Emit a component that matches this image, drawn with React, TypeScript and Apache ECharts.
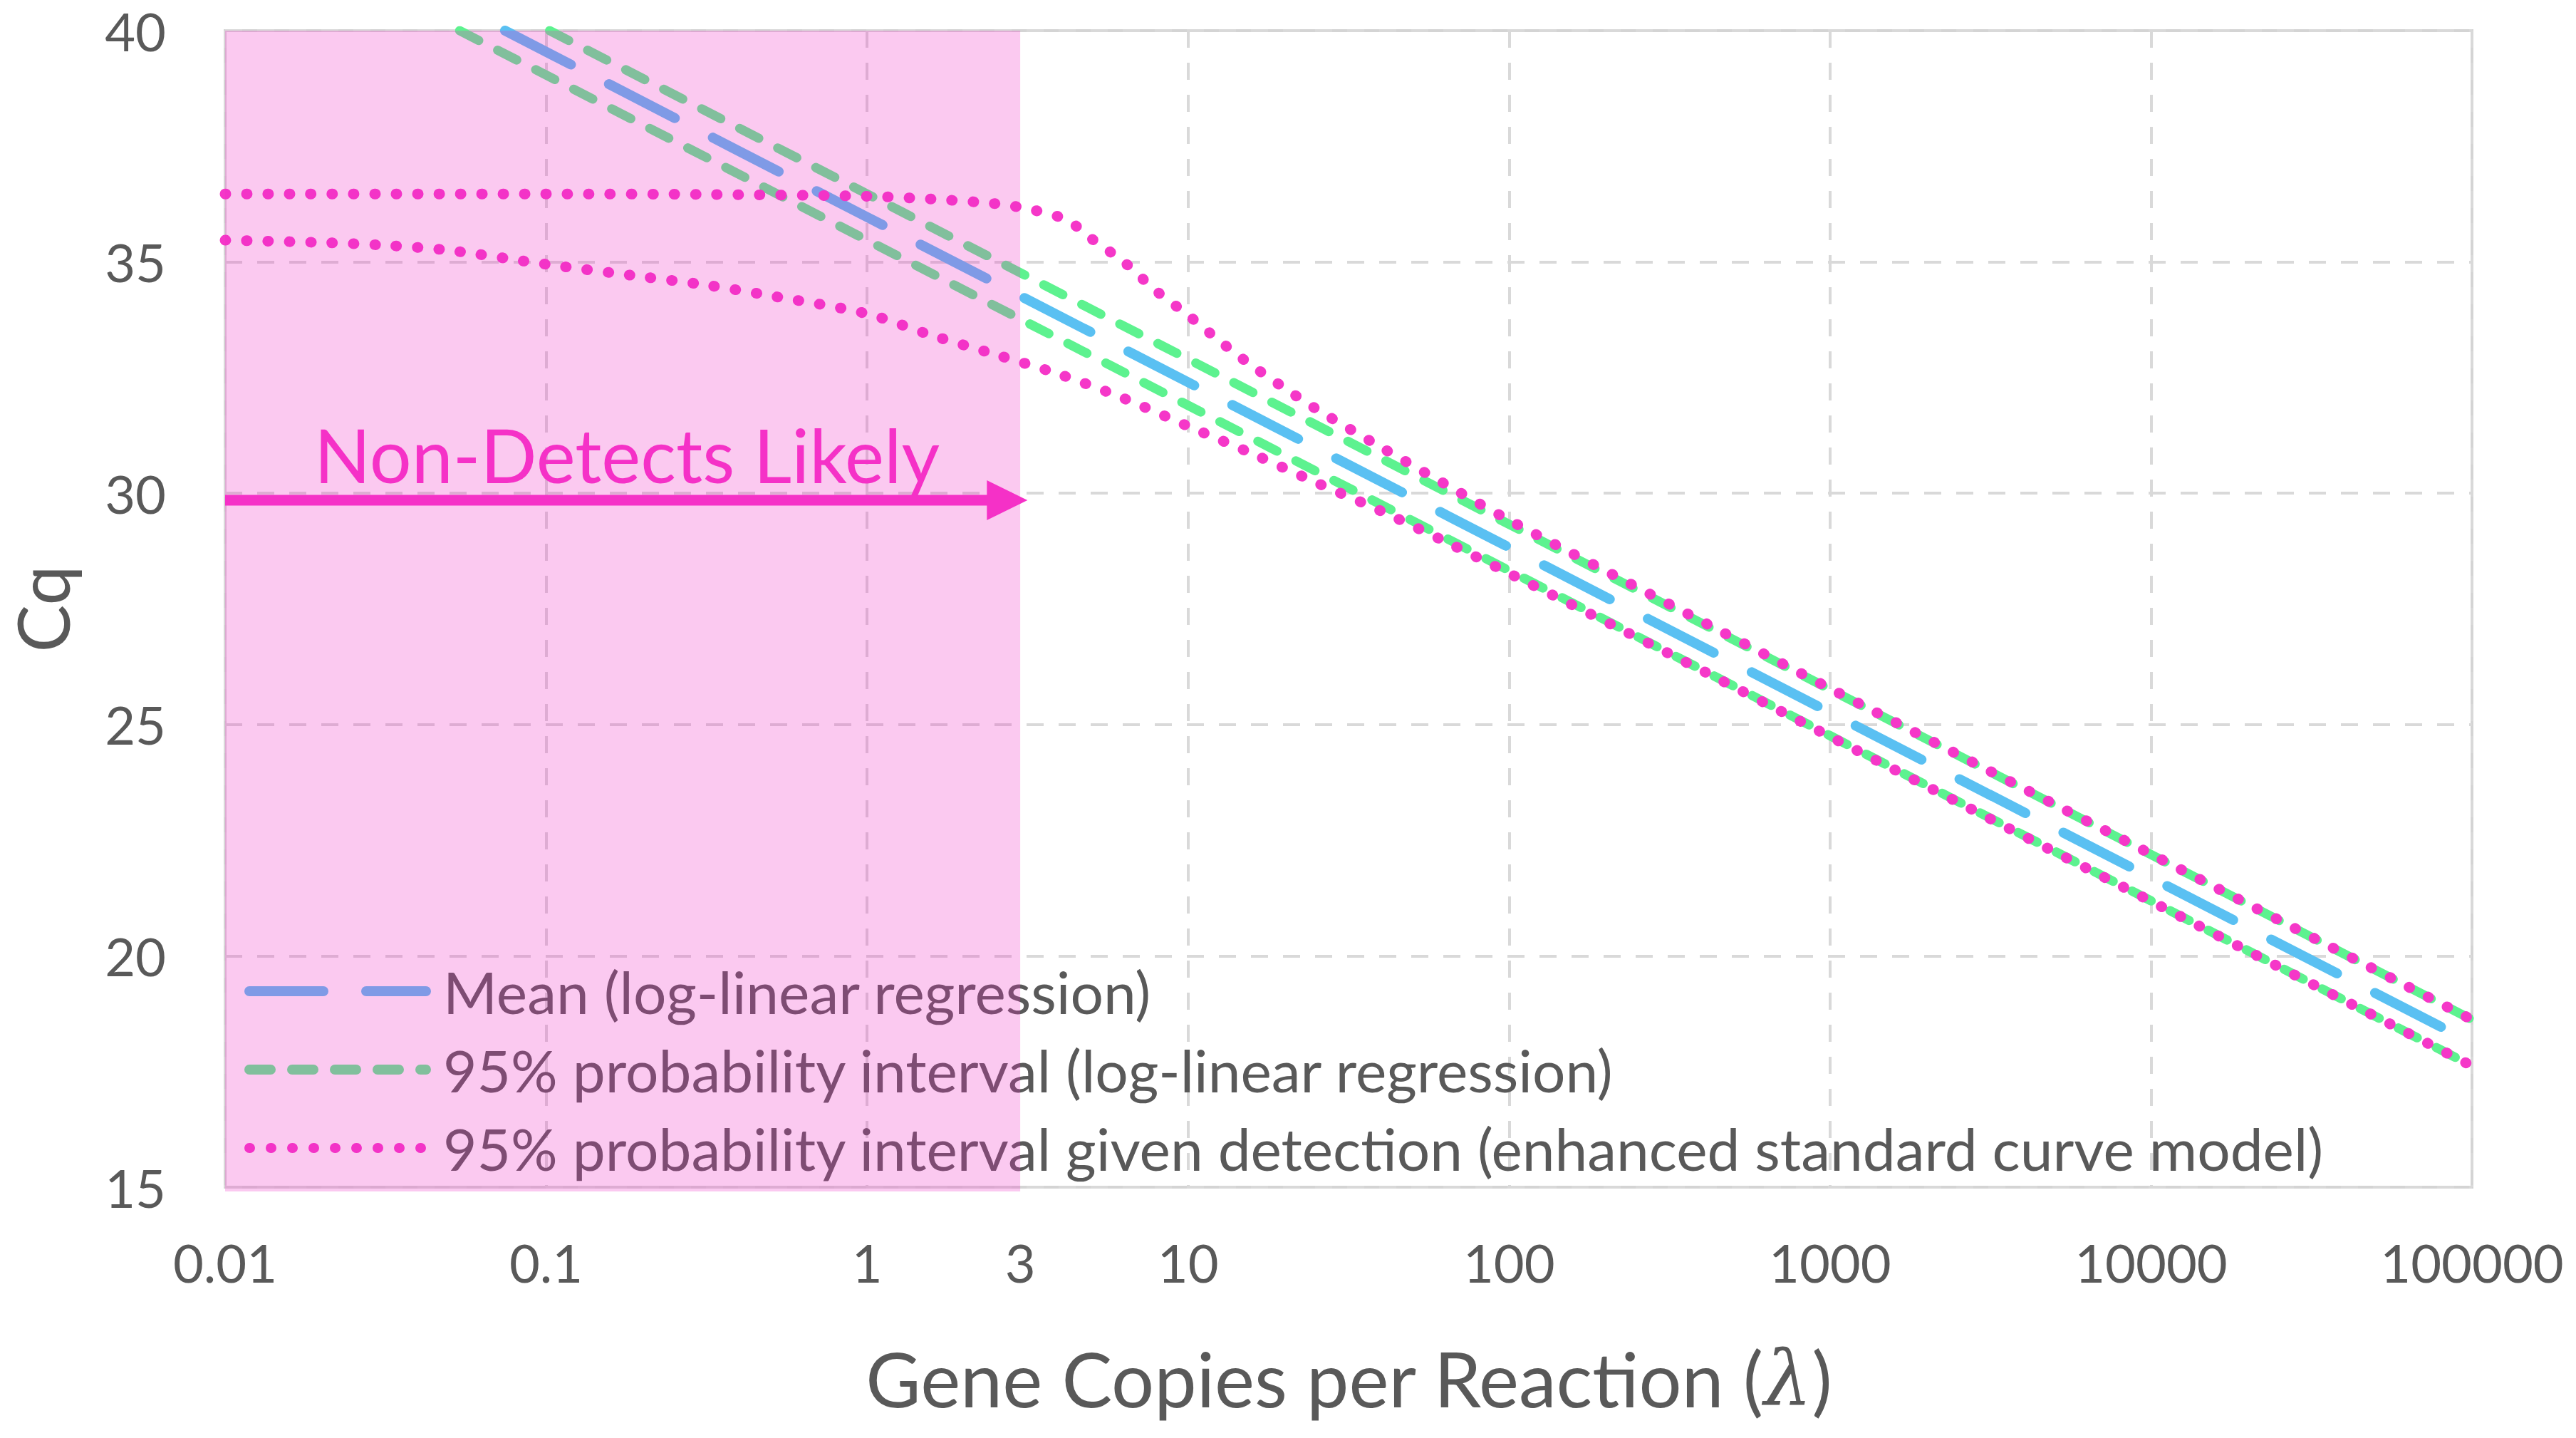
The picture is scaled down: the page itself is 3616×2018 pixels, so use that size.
import React, { useEffect, useRef } from "react";
import * as echarts from "echarts";

// ---------- data ----------
const xTickLabels = [0.01, 0.1, 1, 3, 10, 100, 1000, 10000, 100000];

const legendNames = [
  "Mean (log-linear regression)",
  "95% probability interval (log-linear regression)",
  "95% probability interval given detection (enhanced standard curve model)",
];

// Mean (log-linear regression)
const meanCopies = [0.0745, 1, 10, 100, 1000, 10000, 100000];
const meanCq = [40.0, 35.97, 32.4, 28.83, 25.26, 21.69, 18.12];

// 95% probability interval (log-linear regression)
const piUpperCopies = [0.1026, 1, 10, 100, 1000, 10000, 100000];
const piUpperCq = [40.0, 36.47, 32.9, 29.33, 25.76, 22.19, 18.62];
const piLowerCopies = [0.0538, 0.1, 1, 10, 100, 1000, 10000, 100000];
const piLowerCq = [40.0, 39.04, 35.47, 31.9, 28.33, 24.76, 21.19, 17.62];

// 95% probability interval given detection (enhanced standard curve model)
const detUpperCopies = [
  0.01, 0.1, 0.316, 1, 1.58, 2.51, 3.16, 3.98, 4.47, 5.01, 6.31, 7.94, 10, 12.6,
  15.8, 20, 25.1, 39.8, 63.1, 100, 316, 1000, 10000, 100000,
];
const detUpperCq = [
  36.47, 36.47, 36.46, 36.42, 36.36, 36.26, 36.15, 35.97, 35.78, 35.5, 35.0,
  34.38, 33.85, 33.28, 32.76, 32.27, 31.82, 31.0, 30.2, 29.42, 27.6, 25.78, 22.2,
  18.62,
];
const detLowerCopies = [
  0.01, 0.02, 0.0316, 0.05, 0.1, 0.2, 0.316, 0.5, 1, 1.58, 2.51, 3.98, 6.31, 10,
  15.8, 25.1, 39.8, 63.1, 100, 316, 1000, 10000, 100000,
];
const detLowerCq = [
  35.47, 35.42, 35.36, 35.25, 34.95, 34.68, 34.5, 34.27, 33.88, 33.42, 33.0,
  32.57, 32.05, 31.45, 30.86, 30.23, 29.62, 28.96, 28.27, 26.53, 24.74, 21.18,
  17.62,
];

// "Non-detects likely" region and annotation
const shadeCopies = [0.01, 3];
const shadeCq = [15, 40];
const arrowCopies = [0.01, 3.16];
const arrowCq = [29.85, 29.85];
const annotationText = "Non-Detects Likely";
const annotationAt = [0.1786, 30.85];

// ---------- styles ----------
const FONT = "Lato, 'Open Sans', sans-serif";
const GRAY = "#595959";
const BLUE = "#5AC0F2";
const GREEN = "#5DF28F";
const PINK = "#F537C8";
const MAGENTA = "#F531C7";

const zip = (xs: number[], ys: number[]) => xs.map((x, i) => [x, ys[i]]);

const labelFmt = (v: number) => String(+Number(v).toPrecision(6));

const option: any = {
  animation: false,
  backgroundColor: "#ffffff",
  grid: {
    left: 316,
    right: 146,
    top: 43,
    bottom: 352,
    show: true,
    borderColor: "#D4D4D4",
    borderWidth: 4,
    backgroundColor: "transparent",
    outerBoundsMode: "none",
  },
  xAxis: {
    type: "log",
    logBase: 10,
    min: 0.01,
    max: 100000,
    name: "Gene Copies per Reaction ({l|λ})",
    nameLocation: "middle",
    nameGap: 215,
    nameTextStyle: {
      fontSize: 106,
      color: GRAY,
      fontFamily: FONT,
      rich: {
        l: {
          fontSize: 106,
          fontStyle: "italic",
          fontFamily: "'DejaVu Serif', serif",
          color: GRAY,
        },
      },
    },
    axisLine: { show: false },
    axisTick: { show: false },
    axisLabel: {
      customValues: xTickLabels,
      formatter: labelFmt,
      fontSize: 74,
      color: GRAY,
      fontFamily: FONT,
      margin: 68,
      showMinLabel: true,
      showMaxLabel: true,
    },
    splitLine: {
      show: true,
      lineStyle: { color: "#D9D9D9", width: 4, type: [24, 21] },
    },
  },
  yAxis: {
    type: "value",
    min: 15,
    max: 40,
    interval: 5,
    name: "Cq",
    nameLocation: "middle",
    nameGap: 207,
    nameTextStyle: { fontSize: 100, color: GRAY, fontFamily: FONT },
    axisLine: { show: false },
    axisTick: { show: false },
    axisLabel: { fontSize: 74, color: GRAY, fontFamily: FONT, margin: 83 },
    splitLine: {
      show: true,
      lineStyle: { color: "#D9D9D9", width: 4, type: [24, 21] },
    },
  },
  legend: {
    data: legendNames,
    orient: "vertical",
    left: 338,
    top: 1345,
    padding: 5,
    itemGap: 28,
    itemWidth: 248,
    itemHeight: 14,
    selectedMode: false,
    itemStyle: { opacity: 0 },
    lineStyle: { width: 14 },
    textStyle: {
      fontSize: 82,
      color: GRAY,
      fontFamily: FONT,
      lineHeight: 82,
      padding: [0, 0, 0, 19],
    },
  },
  series: [
    {
      type: "line",
      name: legendNames[0],
      data: zip(meanCopies, meanCq),
      symbol: "none",
      silent: true,
      z: 2,
      itemStyle: { color: BLUE },
      lineStyle: { color: BLUE, width: 14, type: [104, 60], cap: "round" },
    },
    {
      type: "line",
      name: legendNames[1],
      data: zip(piUpperCopies, piUpperCq),
      symbol: "none",
      silent: true,
      z: 2,
      itemStyle: { color: GREEN },
      lineStyle: { color: GREEN, width: 13, type: [30, 30], cap: "round" },
    },
    {
      type: "line",
      name: legendNames[1],
      data: zip(piLowerCopies, piLowerCq),
      symbol: "none",
      silent: true,
      z: 2,
      itemStyle: { color: GREEN },
      lineStyle: { color: GREEN, width: 13, type: [30, 30], cap: "round" },
    },
    {
      type: "line",
      name: legendNames[2],
      data: zip(detUpperCopies, detUpperCq),
      symbol: "none",
      smooth: 0.3,
      silent: true,
      z: 3,
      itemStyle: { color: PINK },
      lineStyle: { color: PINK, width: 15, type: [1, 29], cap: "round" },
    },
    {
      type: "line",
      name: legendNames[2],
      data: zip(detLowerCopies, detLowerCq),
      symbol: "none",
      smooth: 0.3,
      silent: true,
      z: 3,
      itemStyle: { color: PINK },
      lineStyle: { color: PINK, width: 15, type: [1, 29], cap: "round" },
    },
    {
      type: "custom",
      silent: true,
      z: 5,
      data: [[shadeCopies[0], shadeCq[0], shadeCopies[1], shadeCq[1]]],
      encode: { x: [0, 2], y: [1, 3] },
      renderItem: (params: any, api: any) => {
        const a = api.coord([api.value(0), api.value(3)]);
        const b = api.coord([api.value(2), api.value(1)]);
        return {
          type: "rect",
          shape: { x: a[0], y: a[1], width: b[0] - a[0], height: b[1] - a[1] + 6 },
          style: { fill: "rgba(240,40,196,0.25)" },
        };
      },
    },
    {
      type: "custom",
      silent: true,
      z: 6,
      data: [[arrowCopies[0], arrowCq[0], arrowCopies[1], arrowCq[1]]],
      encode: { x: [0, 2], y: [1, 3] },
      renderItem: (params: any, api: any) => {
        const p0 = api.coord([api.value(0), api.value(1)]);
        const p1 = api.coord([api.value(2), api.value(3)]);
        const head = 57;
        const half = 28;
        return {
          type: "group",
          children: [
            {
              type: "line",
              shape: { x1: p0[0], y1: p0[1], x2: p1[0] - head + 4, y2: p1[1] },
              style: { stroke: MAGENTA, lineWidth: 15 },
            },
            {
              type: "polygon",
              shape: {
                points: [
                  [p1[0], p1[1]],
                  [p1[0] - head, p1[1] - half],
                  [p1[0] - head, p1[1] + half],
                ],
              },
              style: { fill: MAGENTA },
            },
          ],
        };
      },
    },
    {
      type: "custom",
      silent: true,
      z: 6,
      data: [annotationAt],
      encode: { x: 0, y: 1 },
      renderItem: (params: any, api: any) => {
        const p = api.coord([api.value(0), api.value(1)]);
        return {
          type: "text",
          x: p[0],
          y: p[1],
          style: {
            text: annotationText,
            fill: MAGENTA,
            fontSize: 104,
            fontFamily: FONT,
            align: "center",
            verticalAlign: "middle",
          },
        };
      },
    },
  ],
};

export default function App() {
  const ref = useRef<HTMLDivElement>(null);
  useEffect(() => {
    document.body.style.margin = "0";
    const chart = echarts.init(ref.current as HTMLDivElement, undefined, {
      renderer: "svg",
    });
    chart.setOption(option);
    return () => chart.dispose();
  }, []);
  return (
    <div
      ref={ref}
      style={{ width: 3616, height: 2018, overflow: "hidden", background: "#fff" }}
    />
  );
}
